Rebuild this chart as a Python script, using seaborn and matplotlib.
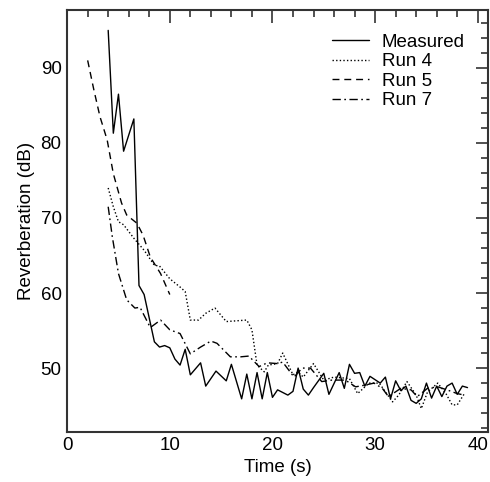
import matplotlib
matplotlib.use("Agg")
import matplotlib.pyplot as plt
from matplotlib.ticker import MultipleLocator
import seaborn as sns
import pandas as pd

# Measured reverberation
t_meas = [4, 4.5, 5, 5.5, 6.5, 7, 7.5, 8.5, 9, 9.5, 10, 10.5, 11, 11.5, 12, 13, 13.5,
          14.5, 15.5, 16, 17, 17.5, 18, 18.5, 19, 19.5, 20, 20.5, 21.5, 22, 22.5, 23,
          23.5, 24, 25, 25.5, 26.5, 27, 27.5, 28, 28.5, 29, 29.5, 30.5, 31, 31.5, 32,
          32.5, 33, 33.5, 34, 34.5, 35, 35.5, 36, 36.5, 37, 37.5, 38, 38.5, 39]
db_meas = [95, 81.3, 86.5, 78.9, 83.2, 61, 59.8, 53.5, 52.8, 53.0, 52.7, 51.2, 50.4,
           52.5, 49.1, 50.7, 47.6, 49.6, 48.3, 50.5, 45.9, 49.2, 45.9, 49.4, 45.9, 49.4,
           46.1, 47.1, 46.4, 46.9, 50.0, 47.2, 46.4, 47.4, 49.3, 46.5, 49.4, 47.3, 50.5,
           49.3, 49.4, 47.6, 48.9, 48.0, 48.8, 45.9, 48.3, 47.0, 47.6, 45.7, 45.3, 45.9,
           48.0, 46.0, 47.6, 46.2, 47.6, 48.0, 46.5, 47.6, 47.4]

# Run 4
t_run4 = [4, 4.5, 5, 5.5, 6.5, 7.5, 8.5, 9, 10, 11, 11.5, 12, 12.8, 13.5, 14.4, 15.5,
          16.5, 17.5, 18, 18.5, 19.2, 19.6, 20.5, 21, 22, 22.5, 23, 24, 25, 26, 27.5,
          28.3, 29.4, 30.4, 31.7, 32.3, 33.1, 34, 34.5, 35.1, 36.1, 36.9, 37.5, 38, 38.7]
db_run4 = [74.0, 71.5, 69.5, 69.1, 67.3, 65.7, 63.7, 63.6, 61.9, 60.8, 60.2, 56.4, 56.4,
           57.3, 58.0, 56.2, 56.3, 56.4, 55.1, 50.4, 49.5, 50.4, 50.6, 52.0, 49.1, 49.5,
           48.8, 50.6, 48.4, 48.8, 48.6, 46.6, 48.0, 48.0, 45.5, 46.4, 48.2, 46.4, 44.6,
           46.8, 48.0, 46.6, 45.1, 45.1, 46.6]

# Run 5
t_run5 = [2, 2.6, 3.2, 3.9, 4.5, 5.3, 5.8, 6.8, 7.4, 8.1, 9.1, 10]
db_run5 = [91.0, 87.1, 83.5, 80.4, 75.9, 72.0, 70.4, 69.3, 67.7, 64.8, 62.6, 59.8]

# Run 7
t_run7 = [4, 4.4, 5, 5.8, 6.6, 7.1, 8.1, 9.1, 10, 11, 12, 13, 14, 14.6, 15.9, 16.9,
          17.7, 18.7, 19.5, 20.5, 21, 22.1, 22.9, 23.7, 24.8, 25.8, 27.1, 28.1, 28.9,
          29.9, 30.7, 31.3, 32.5, 33.5, 34.1, 35.1, 36.1, 37, 38, 38.7]
db_run7 = [71.5, 67.5, 62.6, 59.1, 58.0, 58.1, 55.4, 56.4, 55.1, 54.6, 51.9, 52.8, 53.6,
           53.3, 51.5, 51.5, 51.6, 50.2, 50.7, 50.6, 50.8, 48.8, 50.0, 50.0, 48.2, 48.4,
           48.4, 47.5, 47.7, 48.0, 47.3, 46.2, 47.3, 47.1, 46.2, 47.3, 47.5, 47.1, 46.6,
           46.4]

FS = 13.5

sns.set_style("white")
plt.rcParams['font.family'] = ['Liberation Sans', 'DejaVu Sans']
plt.rcParams['font.size'] = FS
plt.rcParams['text.color'] = 'black'
plt.rcParams['axes.labelcolor'] = 'black'
plt.rcParams['xtick.labelcolor'] = 'black'
plt.rcParams['ytick.labelcolor'] = 'black'

fig = plt.figure(figsize=(4.9, 4.82), dpi=100)
ax = fig.add_axes([0.137, 0.104, 0.859, 0.875])

series = [
    ("Measured", t_meas, db_meas, "-"),
    ("Run 4", t_run4, db_run4, (0, (1, 1.6))),
    ("Run 5", t_run5, db_run5, (0, (5, 3.5))),
    ("Run 7", t_run7, db_run7, (0, (6, 2.5, 1.2, 2.5))),
]
for name, t, db, ls in series:
    df = pd.DataFrame({"Time": t, "dB": db})
    sns.lineplot(data=df, x="Time", y="dB", ax=ax, color="black", lw=1.0,
                 linestyle=ls, label=name)

ax.set_xlim(0, 41)
ax.set_ylim(41.5, 97.7)
ax.xaxis.set_major_locator(MultipleLocator(10))
ax.xaxis.set_minor_locator(MultipleLocator(2))
ax.yaxis.set_major_locator(MultipleLocator(10))
ax.yaxis.set_minor_locator(MultipleLocator(2))
ax.tick_params(which="both", direction="in", top=True, right=True,
               color="#333333", width=1.2, labelsize=FS, labelcolor="black")
ax.tick_params(which="major", length=9, pad=4)
ax.tick_params(which="minor", length=5)
for sp in ax.spines.values():
    sp.set_color("#333333")
    sp.set_linewidth(1.5)

ax.set_xlabel("Time (s)", fontsize=FS, color="black", labelpad=3)
ax.set_ylabel("Reverberation (dB)", fontsize=FS, color="black", labelpad=4)

ax.legend(loc="upper right", frameon=False, fontsize=FS, handlelength=2.0,
          labelspacing=0.13, handletextpad=0.65, borderaxespad=0.85)

fig.savefig("out.png", dpi=100)
